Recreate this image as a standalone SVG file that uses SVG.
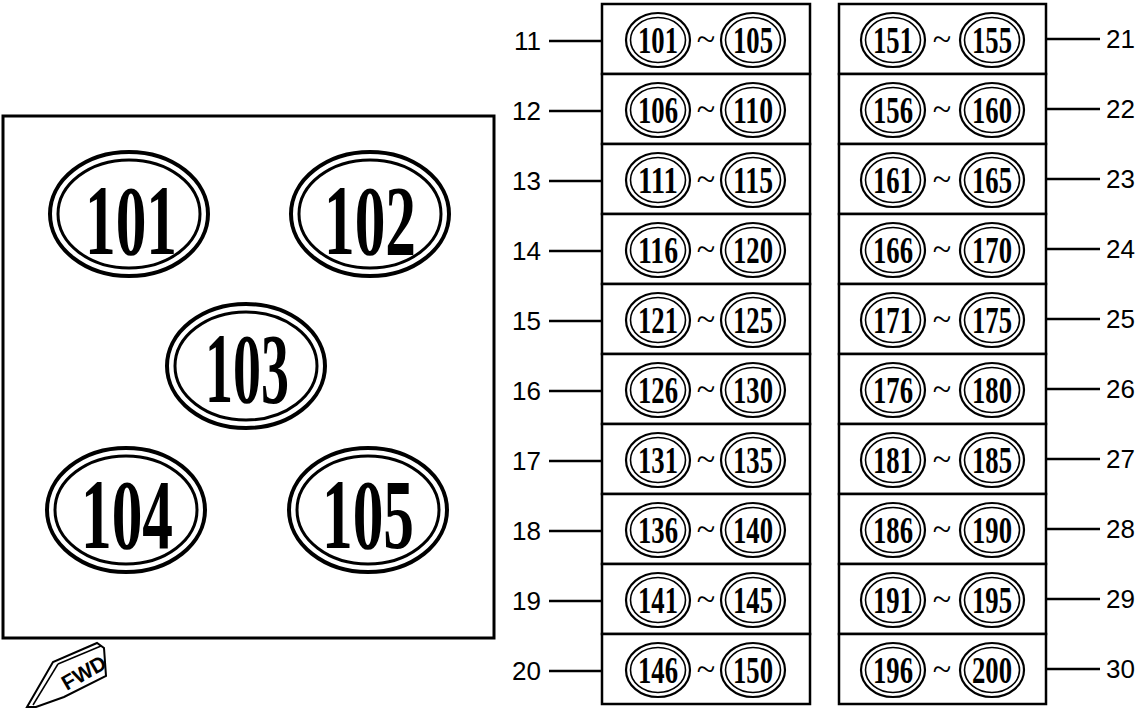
<svg xmlns="http://www.w3.org/2000/svg" width="1143" height="708" viewBox="0 0 1143 708">
<style>
.bg{fill:#fff}
.frame{fill:none;stroke:#000;stroke-width:3}
.box{fill:#fff;stroke:#000;stroke-width:2.5}
.o1{fill:#fff;stroke:#000;stroke-width:4}
.o2{fill:none;stroke:#000;stroke-width:3}
.s1{fill:#fff;stroke:#000;stroke-width:2.2}
.s2{fill:none;stroke:#000;stroke-width:1.6}
.big{font-family:"Liberation Serif",serif;font-weight:bold;font-size:100px;text-anchor:middle}
.sm{font-family:"Liberation Serif",serif;font-weight:bold;font-size:37px;text-anchor:middle}
.til{font-family:"Liberation Serif",serif;font-size:34px;text-anchor:middle}
.lab{font-family:"Liberation Sans",sans-serif;font-size:26px}
.ln{stroke:#000;stroke-width:2.5;fill:none}
</style>
<defs>
<g id="big">
<ellipse class="o1" rx="79" ry="62"/>
<ellipse class="o2" rx="71" ry="54"/>
</g>
<g id="sml">
<ellipse class="s1" rx="32" ry="27"/>
<ellipse class="s2" rx="27.5" ry="22.5"/>
</g>
</defs>
<rect class="bg" width="1143" height="708"/>
<g id="frame">
<rect class="frame" x="3" y="116" width="491" height="522"/>
</g>
<g id="n101"><use href="#big" x="129" y="214"/><text class="big" x="131" y="254" textLength="92" lengthAdjust="spacingAndGlyphs">101</text></g>
<g id="n102"><use href="#big" x="370" y="214"/><text class="big" x="370" y="254" textLength="92" lengthAdjust="spacingAndGlyphs">102</text></g>
<g id="n103"><use href="#big" x="246" y="366"/><text class="big" x="247" y="402" textLength="84" lengthAdjust="spacingAndGlyphs">103</text></g>
<g id="n104"><use href="#big" x="126" y="510"/><text class="big" x="127" y="548" textLength="92" lengthAdjust="spacingAndGlyphs">104</text></g>
<g id="n105"><use href="#big" x="368" y="510"/><text class="big" x="368" y="548" textLength="92" lengthAdjust="spacingAndGlyphs">105</text></g>
<g id="fwd">
<polygon points="27,707 53,662 97,643 104,648 106,676 64,697 36,707" fill="#fff" stroke="#000" stroke-width="2"/>
<line x1="33" y1="705" x2="58" y2="664" stroke="#000" stroke-width="1.5"/>
<line x1="58" y1="664" x2="101" y2="646" stroke="#000" stroke-width="1.5"/>
<text x="84" y="680" transform="rotate(-30 84 673)" font-family="Liberation Sans,sans-serif" font-weight="bold" font-size="21" text-anchor="middle">FWD</text>
</g>
<g id="connectors">
<line class="ln" x1="549" y1="41" x2="602" y2="41"/>
<line class="ln" x1="549" y1="111" x2="602" y2="111"/>
<line class="ln" x1="549" y1="181" x2="602" y2="181"/>
<line class="ln" x1="549" y1="251" x2="602" y2="251"/>
<line class="ln" x1="549" y1="321" x2="602" y2="321"/>
<line class="ln" x1="549" y1="391" x2="602" y2="391"/>
<line class="ln" x1="549" y1="461" x2="602" y2="461"/>
<line class="ln" x1="549" y1="531" x2="602" y2="531"/>
<line class="ln" x1="549" y1="601" x2="602" y2="601"/>
<line class="ln" x1="549" y1="671" x2="602" y2="671"/>
<line class="ln" x1="1046" y1="39" x2="1100" y2="39"/>
<line class="ln" x1="1046" y1="109" x2="1100" y2="109"/>
<line class="ln" x1="1046" y1="179" x2="1100" y2="179"/>
<line class="ln" x1="1046" y1="249" x2="1100" y2="249"/>
<line class="ln" x1="1046" y1="319" x2="1100" y2="319"/>
<line class="ln" x1="1046" y1="389" x2="1100" y2="389"/>
<line class="ln" x1="1046" y1="459" x2="1100" y2="459"/>
<line class="ln" x1="1046" y1="529" x2="1100" y2="529"/>
<line class="ln" x1="1046" y1="599" x2="1100" y2="599"/>
<line class="ln" x1="1046" y1="669" x2="1100" y2="669"/>
</g>
<g id="labels" class="lab">
<text x="541" y="50" text-anchor="end">11</text>
<text x="541" y="120" text-anchor="end">12</text>
<text x="541" y="190" text-anchor="end">13</text>
<text x="541" y="260" text-anchor="end">14</text>
<text x="541" y="330" text-anchor="end">15</text>
<text x="541" y="400" text-anchor="end">16</text>
<text x="541" y="470" text-anchor="end">17</text>
<text x="541" y="540" text-anchor="end">18</text>
<text x="541" y="610" text-anchor="end">19</text>
<text x="541" y="680" text-anchor="end">20</text>
<text x="1106" y="48">21</text>
<text x="1106" y="118">22</text>
<text x="1106" y="188">23</text>
<text x="1106" y="258">24</text>
<text x="1106" y="328">25</text>
<text x="1106" y="398">26</text>
<text x="1106" y="468">27</text>
<text x="1106" y="538">28</text>
<text x="1106" y="608">29</text>
<text x="1106" y="678">30</text>
</g>
<g id="r11"><rect class="box" x="602" y="4" width="208" height="70"/><use href="#sml" x="658" y="40"/><text class="sm" x="658" y="53" textLength="40" lengthAdjust="spacingAndGlyphs">101</text><text class="til" x="706" y="50">~</text><use href="#sml" x="753" y="40"/><text class="sm" x="753" y="53" textLength="40" lengthAdjust="spacingAndGlyphs">105</text></g>
<g id="r12"><rect class="box" x="602" y="74" width="208" height="70"/><use href="#sml" x="658" y="110"/><text class="sm" x="658" y="123" textLength="40" lengthAdjust="spacingAndGlyphs">106</text><text class="til" x="706" y="120">~</text><use href="#sml" x="753" y="110"/><text class="sm" x="753" y="123" textLength="40" lengthAdjust="spacingAndGlyphs">110</text></g>
<g id="r13"><rect class="box" x="602" y="144" width="208" height="70"/><use href="#sml" x="658" y="180"/><text class="sm" x="658" y="193" textLength="40" lengthAdjust="spacingAndGlyphs">111</text><text class="til" x="706" y="190">~</text><use href="#sml" x="753" y="180"/><text class="sm" x="753" y="193" textLength="40" lengthAdjust="spacingAndGlyphs">115</text></g>
<g id="r14"><rect class="box" x="602" y="214" width="208" height="70"/><use href="#sml" x="658" y="250"/><text class="sm" x="658" y="263" textLength="40" lengthAdjust="spacingAndGlyphs">116</text><text class="til" x="706" y="260">~</text><use href="#sml" x="753" y="250"/><text class="sm" x="753" y="263" textLength="40" lengthAdjust="spacingAndGlyphs">120</text></g>
<g id="r15"><rect class="box" x="602" y="284" width="208" height="70"/><use href="#sml" x="658" y="320"/><text class="sm" x="658" y="333" textLength="40" lengthAdjust="spacingAndGlyphs">121</text><text class="til" x="706" y="330">~</text><use href="#sml" x="753" y="320"/><text class="sm" x="753" y="333" textLength="40" lengthAdjust="spacingAndGlyphs">125</text></g>
<g id="r16"><rect class="box" x="602" y="354" width="208" height="70"/><use href="#sml" x="658" y="390"/><text class="sm" x="658" y="403" textLength="40" lengthAdjust="spacingAndGlyphs">126</text><text class="til" x="706" y="400">~</text><use href="#sml" x="753" y="390"/><text class="sm" x="753" y="403" textLength="40" lengthAdjust="spacingAndGlyphs">130</text></g>
<g id="r17"><rect class="box" x="602" y="424" width="208" height="70"/><use href="#sml" x="658" y="460"/><text class="sm" x="658" y="473" textLength="40" lengthAdjust="spacingAndGlyphs">131</text><text class="til" x="706" y="470">~</text><use href="#sml" x="753" y="460"/><text class="sm" x="753" y="473" textLength="40" lengthAdjust="spacingAndGlyphs">135</text></g>
<g id="r18"><rect class="box" x="602" y="494" width="208" height="70"/><use href="#sml" x="658" y="530"/><text class="sm" x="658" y="543" textLength="40" lengthAdjust="spacingAndGlyphs">136</text><text class="til" x="706" y="540">~</text><use href="#sml" x="753" y="530"/><text class="sm" x="753" y="543" textLength="40" lengthAdjust="spacingAndGlyphs">140</text></g>
<g id="r19"><rect class="box" x="602" y="564" width="208" height="70"/><use href="#sml" x="658" y="600"/><text class="sm" x="658" y="613" textLength="40" lengthAdjust="spacingAndGlyphs">141</text><text class="til" x="706" y="610">~</text><use href="#sml" x="753" y="600"/><text class="sm" x="753" y="613" textLength="40" lengthAdjust="spacingAndGlyphs">145</text></g>
<g id="r20"><rect class="box" x="602" y="634" width="208" height="70"/><use href="#sml" x="658" y="670"/><text class="sm" x="658" y="683" textLength="40" lengthAdjust="spacingAndGlyphs">146</text><text class="til" x="706" y="680">~</text><use href="#sml" x="753" y="670"/><text class="sm" x="753" y="683" textLength="40" lengthAdjust="spacingAndGlyphs">150</text></g>
<g id="r21"><rect class="box" x="839" y="4" width="207" height="70"/><use href="#sml" x="893" y="40"/><text class="sm" x="893" y="53" textLength="40" lengthAdjust="spacingAndGlyphs">151</text><text class="til" x="942" y="50">~</text><use href="#sml" x="992" y="40"/><text class="sm" x="992" y="53" textLength="40" lengthAdjust="spacingAndGlyphs">155</text></g>
<g id="r22"><rect class="box" x="839" y="74" width="207" height="70"/><use href="#sml" x="893" y="110"/><text class="sm" x="893" y="123" textLength="40" lengthAdjust="spacingAndGlyphs">156</text><text class="til" x="942" y="120">~</text><use href="#sml" x="992" y="110"/><text class="sm" x="992" y="123" textLength="40" lengthAdjust="spacingAndGlyphs">160</text></g>
<g id="r23"><rect class="box" x="839" y="144" width="207" height="70"/><use href="#sml" x="893" y="180"/><text class="sm" x="893" y="193" textLength="40" lengthAdjust="spacingAndGlyphs">161</text><text class="til" x="942" y="190">~</text><use href="#sml" x="992" y="180"/><text class="sm" x="992" y="193" textLength="40" lengthAdjust="spacingAndGlyphs">165</text></g>
<g id="r24"><rect class="box" x="839" y="214" width="207" height="70"/><use href="#sml" x="893" y="250"/><text class="sm" x="893" y="263" textLength="40" lengthAdjust="spacingAndGlyphs">166</text><text class="til" x="942" y="260">~</text><use href="#sml" x="992" y="250"/><text class="sm" x="992" y="263" textLength="40" lengthAdjust="spacingAndGlyphs">170</text></g>
<g id="r25"><rect class="box" x="839" y="284" width="207" height="70"/><use href="#sml" x="893" y="320"/><text class="sm" x="893" y="333" textLength="40" lengthAdjust="spacingAndGlyphs">171</text><text class="til" x="942" y="330">~</text><use href="#sml" x="992" y="320"/><text class="sm" x="992" y="333" textLength="40" lengthAdjust="spacingAndGlyphs">175</text></g>
<g id="r26"><rect class="box" x="839" y="354" width="207" height="70"/><use href="#sml" x="893" y="390"/><text class="sm" x="893" y="403" textLength="40" lengthAdjust="spacingAndGlyphs">176</text><text class="til" x="942" y="400">~</text><use href="#sml" x="992" y="390"/><text class="sm" x="992" y="403" textLength="40" lengthAdjust="spacingAndGlyphs">180</text></g>
<g id="r27"><rect class="box" x="839" y="424" width="207" height="70"/><use href="#sml" x="893" y="460"/><text class="sm" x="893" y="473" textLength="40" lengthAdjust="spacingAndGlyphs">181</text><text class="til" x="942" y="470">~</text><use href="#sml" x="992" y="460"/><text class="sm" x="992" y="473" textLength="40" lengthAdjust="spacingAndGlyphs">185</text></g>
<g id="r28"><rect class="box" x="839" y="494" width="207" height="70"/><use href="#sml" x="893" y="530"/><text class="sm" x="893" y="543" textLength="40" lengthAdjust="spacingAndGlyphs">186</text><text class="til" x="942" y="540">~</text><use href="#sml" x="992" y="530"/><text class="sm" x="992" y="543" textLength="40" lengthAdjust="spacingAndGlyphs">190</text></g>
<g id="r29"><rect class="box" x="839" y="564" width="207" height="70"/><use href="#sml" x="893" y="600"/><text class="sm" x="893" y="613" textLength="40" lengthAdjust="spacingAndGlyphs">191</text><text class="til" x="942" y="610">~</text><use href="#sml" x="992" y="600"/><text class="sm" x="992" y="613" textLength="40" lengthAdjust="spacingAndGlyphs">195</text></g>
<g id="r30"><rect class="box" x="839" y="634" width="207" height="70"/><use href="#sml" x="893" y="670"/><text class="sm" x="893" y="683" textLength="40" lengthAdjust="spacingAndGlyphs">196</text><text class="til" x="942" y="680">~</text><use href="#sml" x="992" y="670"/><text class="sm" x="992" y="683" textLength="40" lengthAdjust="spacingAndGlyphs">200</text></g>
</svg>
